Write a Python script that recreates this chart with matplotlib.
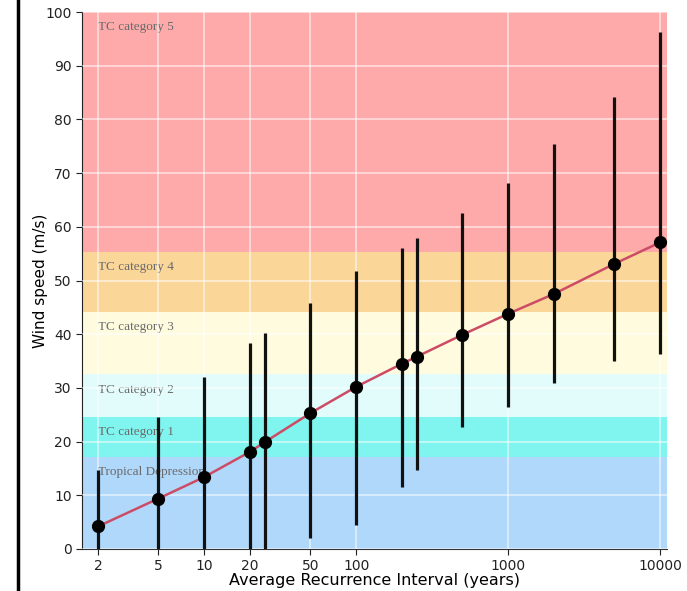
import matplotlib
matplotlib.use("Agg")
import matplotlib.pyplot as plt
from matplotlib.lines import Line2D

# Data
ari = [2, 5, 10, 20, 25, 50, 100, 200, 250, 500, 1000, 2000, 5000, 10000]
wind = [4.2, 9.4, 13.4, 18.1, 19.9, 25.3, 30.2, 34.5, 35.8, 39.9, 43.8, 47.5, 53.1, 57.1]
upper = [14.7, 24.6, 32.0, 38.4, 40.2, 45.8, 51.8, 56.0, 57.9, 62.5, 68.1, 75.4, 84.2, 96.3]
lower = [0.0, 0.0, 0.0, 0.0, 0.0, 2.1, 4.5, 11.6, 14.7, 22.8, 26.4, 30.9, 35.0, 36.3]

band_names = ["Tropical Depression", "TC category 1", "TC category 2",
              "TC category 3", "TC category 4", "TC category 5"]
band_lo = [0, 17.2, 24.5, 32.5, 44.2, 55.3]
band_hi = [17.2, 24.5, 32.5, 44.2, 55.3, 100]
band_colors = ["#b0d8fa", "#80f4ee", "#e2fcfc", "#fffbdf", "#fad699", "#ffaaaa"]

xticks = [2, 5, 10, 20, 50, 100, 1000, 10000]
yticks = [0, 10, 20, 30, 40, 50, 60, 70, 80, 90, 100]

fig = plt.figure(figsize=(6.87, 5.91), dpi=100)
ax = fig.add_axes([82/687, 1-549/591, (667-82)/687, (549-12)/591])
ax.set_xscale("log")
ax.set_xlim(1.57, 11100)
ax.set_ylim(0, 100)

for lo, hi, c, name in zip(band_lo, band_hi, band_colors, band_names):
    ax.axhspan(lo, hi, color=c, lw=0, zorder=0)
    ax.annotate(name, xy=(2, hi), xytext=(0, -6.5), textcoords="offset points",
                ha="left", va="top", fontsize=9.5, family="Liberation Serif",
                color="#6a6a6a", zorder=1)

ax.set_xticks(xticks)
ax.set_xticklabels([str(t) for t in xticks])
ax.xaxis.set_minor_locator(matplotlib.ticker.NullLocator())
ax.set_yticks(yticks)
ax.grid(True, color="white", lw=1.2, alpha=0.6, zorder=0.5)
ax.set_axisbelow(False)

yerr = [[w - l for w, l in zip(wind, lower)], [u - w for u, w in zip(upper, wind)]]
ax.plot(ari, wind, color="#cc4c66", lw=1.8, zorder=3)
ax.errorbar(ari, wind, yerr=yerr, fmt="none", ecolor="#111111", elinewidth=2.3,
            capsize=0, zorder=4)
ax.plot(ari, wind, "o", color="black", ms=8.5, zorder=5)

for s in ["top", "right"]:
    ax.spines[s].set_visible(False)
ax.spines["left"].set_color("#222222")
ax.spines["bottom"].set_color("#333333")
ax.tick_params(labelsize=10, colors="#222222", length=4)

ax.set_ylabel("Wind speed (m/s)", fontsize=11, labelpad=-2)
ax.set_xlabel("Average Recurrence Interval (years)", fontsize=11.5, labelpad=0)

fig.add_artist(Line2D([18/687, 18/687], [0, 1], color="black", lw=2.5,
                      transform=fig.transFigure))

fig.savefig("out.png", dpi=100)
